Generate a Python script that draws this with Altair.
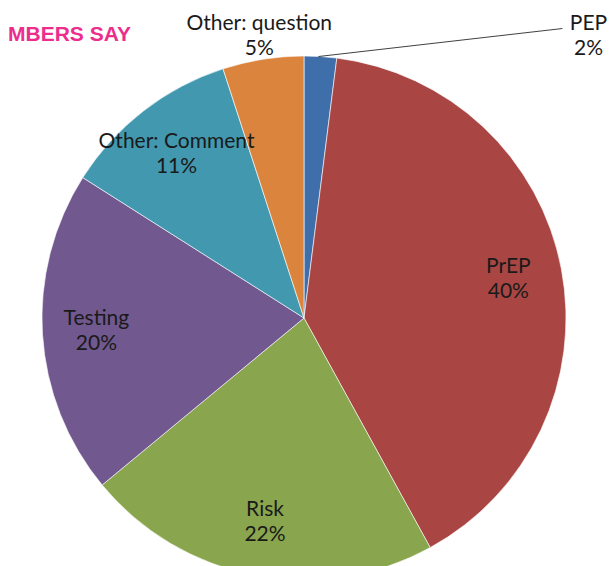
import math
import altair as alt
import pandas as pd

categories = ["PEP", "PrEP", "Risk", "Testing", "Other: Comment", "Other: question"]
values = [2, 40, 22, 20, 11, 5]
colors = ["#3F6FAA", "#A94643", "#89A54E", "#71588F", "#4198AF", "#DB843D"]
inside = ["PrEP", "Risk", "Testing", "Other: Comment"]
title_text = "MBERS SAY"

W, H = 600, 558
CX, CY, R = 296, 310, 262

labels = [f"{c}\n{v}%" for c, v in zip(categories, values)]
df = pd.DataFrame({
    "category": categories,
    "value": values,
    "order": list(range(len(categories))),
    "label_in": [l if c in inside else "" for c, l in zip(categories, labels)],
    "label_q": [l if c == "Other: question" else "" for c, l in zip(categories, labels)],
    "label_pep": [l if c == "PEP" else "" for c, l in zip(categories, labels)],
})

total = sum(values)
pep_mid = (values[0] / 2) / total * 2 * math.pi
PEP_DX, PEP_DY = 268, -21
sx = CX + R * math.sin(pep_mid)
sy = CY - R * math.cos(pep_mid)
leader = pd.DataFrame({"x": [sx - 2], "y": [sy], "x2": [sx + PEP_DX - 26], "y2": [sy + PEP_DY - 7]})

color = alt.Color("category:N", scale=alt.Scale(domain=categories, range=colors), legend=None)
base = alt.Chart(df).encode(
    theta=alt.Theta("value:Q", stack=True),
    order=alt.Order("order:Q"),
)

pie = base.mark_arc(stroke="#ffffff", strokeWidth=0.6).encode(
    color=color, radius=alt.value(R), x=alt.value(CX), y=alt.value(CY)
)

txt_kw = dict(font="Lato", fontSize=21, lineBreak="\n", lineHeight=25, color="#1a1a1a", baseline="middle", align="center")

t_in = base.mark_text(**txt_kw, dy=-12).encode(
    text="label_in:N", radius=alt.value(208), x=alt.value(CX), y=alt.value(CY)
)
t_q = base.mark_text(**txt_kw, dy=-12).encode(
    text="label_q:N", radius=alt.value(286), x=alt.value(CX), y=alt.value(CY)
)
t_pep = base.mark_text(**txt_kw, dx=PEP_DX, dy=PEP_DY - 12).encode(
    text="label_pep:N", radius=alt.value(R), x=alt.value(CX), y=alt.value(CY)
)

rule = alt.Chart(leader).mark_rule(color="#404040", strokeWidth=1).encode(
    x=alt.X("x:Q", scale=None), y=alt.Y("y:Q", scale=None),
    x2="x2:Q", y2="y2:Q",
)

title = alt.Chart(pd.DataFrame({"t": [title_text]})).mark_text(
    font="Liberation Sans", fontSize=21, fontWeight="bold", color="#EC2D8C", align="left", baseline="middle"
).encode(text="t:N", x=alt.value(0), y=alt.value(27))

chart = alt.layer(pie, t_in, t_q, t_pep, rule, title).properties(
    width=W, height=H, autosize=alt.AutoSizeParams(type="none"), padding=0
).configure_view(stroke=None)

chart.save("out.html", embed_options={"renderer": "svg", "actions": False})
